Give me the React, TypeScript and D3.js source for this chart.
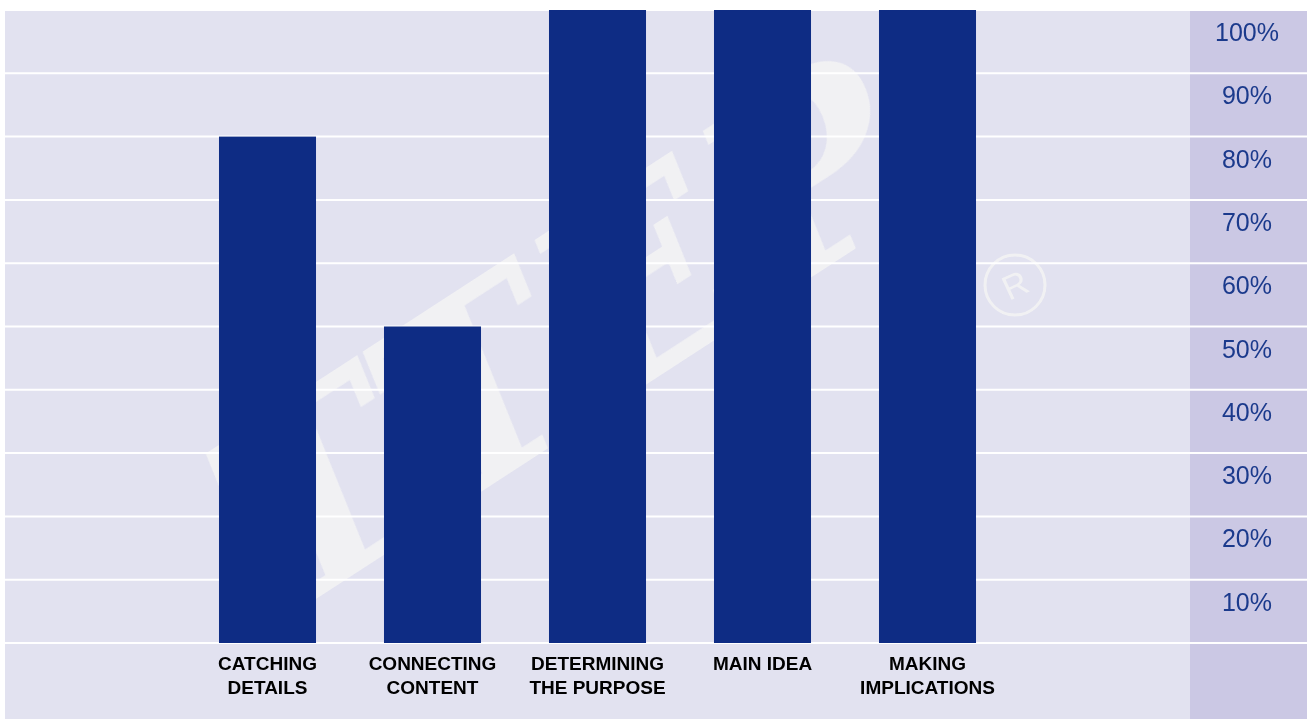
import React from "react";
import * as d3 from "d3";

const categories: string[][] = [
  ["CATCHING", "DETAILS"],
  ["CONNECTING", "CONTENT"],
  ["DETERMINING", "THE PURPOSE"],
  ["MAIN IDEA"],
  ["MAKING", "IMPLICATIONS"],
];
const values: number[] = [80, 50, 100, 100, 100];
const tickValues: number[] = [10, 20, 30, 40, 50, 60, 70, 80, 90, 100];
const gridValues: number[] = [0, 10, 20, 30, 40, 50, 60, 70, 80, 90, 100];

const W = 1307;
const H = 719;

export default function App() {
  const keys = categories.map((c) => c.join(" "));
  const x = d3.scaleBand<string>().domain(keys).range([185, 1010]).paddingInner(0.412).paddingOuter(0.206);
  const y = d3.scaleLinear().domain([0, 100]).range([643, 10]);
  const font = "'Liberation Sans', Arial, sans-serif";

  return (
    <svg width={W} height={H} style={{ position: "absolute", left: 0, top: 0 }}>
      <rect x={5} y={10} width={1185} height={H - 10} fill="#e2e2f0" />
      <rect x={1190} y={10} width={W - 1190} height={H - 10} fill="#cbc8e4" />
      {/* watermark */}
      <g opacity={0.85}>
        <text
          transform="translate(580,350) rotate(-33)"
          textAnchor="middle"
          fontFamily="'DejaVu Serif', 'Liberation Serif', serif"
          fontStyle="italic"
          fontWeight="bold"
          fontSize={250}
          letterSpacing={10}
          fill="#f4f4f4"
          dominantBaseline="middle"
        >
          TTEP
        </text>
        <circle cx={1015} cy={285} r={30} fill="none" stroke="#f4f4f4" strokeWidth={3} />
        <text x={1015} y={297} textAnchor="middle" fontFamily={font} fontSize={34} fill="#f4f4f4" transform="rotate(-25,1015,285)">
          R
        </text>
      </g>
      {gridValues.map((v) => (
        <line key={v} x1={5} x2={W} y1={y(v)} y2={y(v)} stroke="#ffffff" strokeWidth={2} />
      ))}
      {values.map((v, i) => (
        <rect key={i} x={x(keys[i])} y={y(v)} width={x.bandwidth()} height={y(0) - y(v)} fill="#0e2c84" />
      ))}
      {tickValues.map((v) => (
        <text key={v} x={1247} y={y(v) + 31} textAnchor="middle" fontFamily={font} fontSize={25} fill="#1b3a8c">
          {v}%
        </text>
      ))}
      {categories.map((lines, i) => (
        <text key={i} textAnchor="middle" fontFamily={font} fontWeight="bold" fontSize={19} fill="#000">
          {lines.map((l, j) => (
            <tspan key={j} x={(x(keys[i]) as number) + x.bandwidth() / 2} y={670 + j * 23.5}>
              {l}
            </tspan>
          ))}
        </text>
      ))}
    </svg>
  );
}
